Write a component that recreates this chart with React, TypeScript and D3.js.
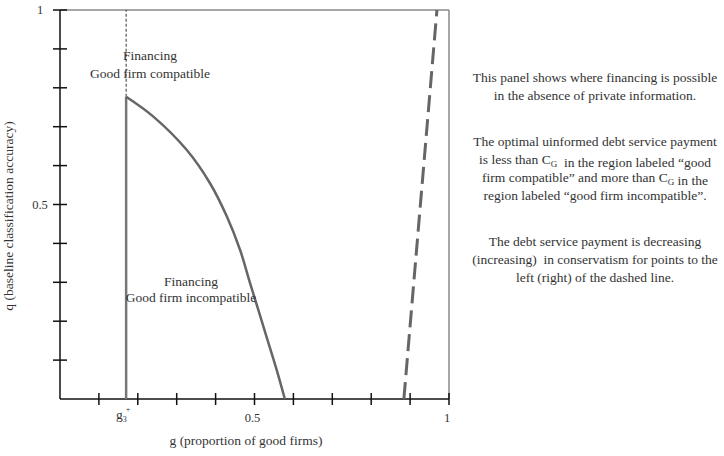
import React from 'react';
import * as d3 from 'd3';

// boundary of the financing region (g, q)
const boundaryG = [0.17, 0.24, 0.326, 0.386, 0.429, 0.463, 0.488, 0.531, 0.557, 0.578];
const boundaryQ = [0.777, 0.726, 0.64, 0.554, 0.469, 0.383, 0.3, 0.16, 0.075, 0];

// g3+ threshold
const gThreshold = 0.17;

// dashed line where the payment stops decreasing in conservatism
const dashedG = [0.884, 0.969];
const dashedQ = [0, 1];

const xTicks = [0.1, 0.2, 0.3, 0.4, 0.5, 0.6, 0.7, 0.8, 0.9, 1];
const yTicks = [0.1, 0.2, 0.3, 0.4, 0.5, 0.6, 0.7, 0.8, 0.9, 1];
const yTickLabels = [{ v: 0.5, t: '0.5' }, { v: 1, t: '1' }];
const xTickLabels = [{ v: 0.5, t: '0.5' }, { v: 1, t: '1' }];

const notes = [
  ['This panel shows where financing is possible', 'in the absence of private information.'],
  [
    'The optimal uinformed debt service payment',
    'is less than C_G  in the region labeled \u201cgood',
    'firm compatible\u201d and more than C_G in the',
    'region labeled \u201cgood firm incompatible\u201d.',
  ],
  [
    'The debt service payment is decreasing',
    '(increasing)  in conservatism for points to the',
    'left (right) of the dashed line.',
  ],
];

const font = '"Liberation Serif", "Times New Roman", serif';
const ink = '#333';

// render "C_G" as C with subscript G
function withSub(line: string) {
  const parts = line.split('C_G');
  const out: React.ReactNode[] = [];
  parts.forEach((p, i) => {
    out.push(<tspan key={'p' + i}>{p}</tspan>);
    if (i < parts.length - 1) {
      out.push(<tspan key={'c' + i}>C</tspan>);
      out.push(
        <tspan key={'g' + i} fontSize={9} dy={3}>
          G
        </tspan>
      );
      out.push(<tspan key={'r' + i} dy={-3}></tspan>);
    }
  });
  return out;
}

export default function App() {
  const width = 724;
  const height = 456;
  const x = d3.scaleLinear().domain([0, 1]).range([60, 449]);
  const y = d3.scaleLinear().domain([0, 1]).range([399, 10]);

  const boundary = d3
    .line<number>()
    .x((d, i) => x(boundaryG[i]))
    .y(d => y(d))
    .curve(d3.curveCatmullRom.alpha(0.5))(boundaryQ);

  const dashed = d3
    .line<number>()
    .x((d, i) => x(dashedG[i]))
    .y(d => y(d))(dashedQ);

  let noteY = 82;
  const noteLines: { text: string; y: number }[] = [];
  notes.forEach(block => {
    block.forEach(t => {
      noteLines.push({ text: t, y: noteY });
      noteY += 18;
    });
    noteY += 28;
  });

  return (
    <svg
      width={width}
      height={height}
      style={{ position: 'absolute', left: 0, top: 0, background: '#fff' }}
      fontFamily={font}
    >
      {/* frame */}
      <line x1={x(0)} x2={x(1)} y1={y(1)} y2={y(1)} stroke="#888" strokeWidth={1.5} />
      <line x1={x(1)} x2={x(1)} y1={y(1)} y2={y(0)} stroke="#888" strokeWidth={1.5} />

      {/* axes */}
      <line x1={x(0)} x2={x(0)} y1={y(0)} y2={y(1)} stroke="#111" strokeWidth={1.5} />
      <line x1={x(0)} x2={x(1)} y1={y(0)} y2={y(0)} stroke="#111" strokeWidth={1.5} />
      {yTicks.map(t => (
        <line key={'yt' + t} x1={x(0) - 7} x2={x(0) + 7} y1={y(t)} y2={y(t)} stroke="#111" strokeWidth={1.5} />
      ))}
      {xTicks.map(t => (
        <line key={'xt' + t} x1={x(t)} x2={x(t)} y1={y(0) - 6} y2={y(0) + 6} stroke="#111" strokeWidth={1.5} />
      ))}
      {yTickLabels.map(d => (
        <text key={'yl' + d.t} x={x(0) - 20} y={y(d.v) + 4} textAnchor="middle" fontSize={12.5} fill={ink}>
          {d.t}
        </text>
      ))}
      {xTickLabels.map(d => (
        <text key={'xl' + d.t} x={x(d.v) - 2} y={y(0) + 23} textAnchor="middle" fontSize={12.5} fill={ink}>
          {d.t}
        </text>
      ))}
      <text x={x(gThreshold) - 3} y={y(0) + 20} textAnchor="middle" fontSize={13.5} fill={ink}>
        g
        <tspan fontSize={8} dy={3}>3</tspan>
        <tspan fontSize={8} dy={-10} dx={-1}>+</tspan>
      </text>

      {/* axis titles */}
      <text x={246} y={445} textAnchor="middle" fontSize={13.5} fill={ink}>
        g (proportion of good firms)
      </text>
      <text
        transform={`translate(13, ${216}) rotate(-90)`}
        textAnchor="middle"
        fontSize={13.5}
        fill={ink}
      >
        q (baseline classification accuracy)
      </text>

      {/* g3+ threshold */}
      <line
        x1={x(gThreshold)}
        x2={x(gThreshold)}
        y1={y(0)}
        y2={y(boundaryQ[0])}
        stroke="#777"
        strokeWidth={2.5}
      />
      <line
        x1={x(gThreshold)}
        x2={x(gThreshold)}
        y1={y(boundaryQ[0])}
        y2={y(1)}
        stroke="#333"
        strokeWidth={1}
        strokeDasharray="3,2"
      />

      <path d={boundary || ''} fill="none" stroke="#666" strokeWidth={2.5} />
      <path d={dashed || ''} fill="none" stroke="#666" strokeWidth={3} strokeDasharray="17,7" />

      {/* region labels */}
      <text x={150} y={60} textAnchor="middle" fontSize={13.5} fill={ink}>
        Financing
      </text>
      <text x={150} y={78} textAnchor="middle" fontSize={13.5} fill={ink}>
        Good firm compatible
      </text>
      <text x={191} y={286} textAnchor="middle" fontSize={13.5} fill={ink}>
        Financing
      </text>
      <text x={191} y={302} textAnchor="middle" fontSize={13.5} fill={ink}>
        Good firm incompatible
      </text>

      {/* notes */}
      {noteLines.map((l, i) => (
        <text key={'n' + i} x={595} y={l.y} textAnchor="middle" fontSize={13.5} fill={ink} style={{ whiteSpace: 'pre' }}>
          {withSub(l.text)}
        </text>
      ))}
    </svg>
  );
}
